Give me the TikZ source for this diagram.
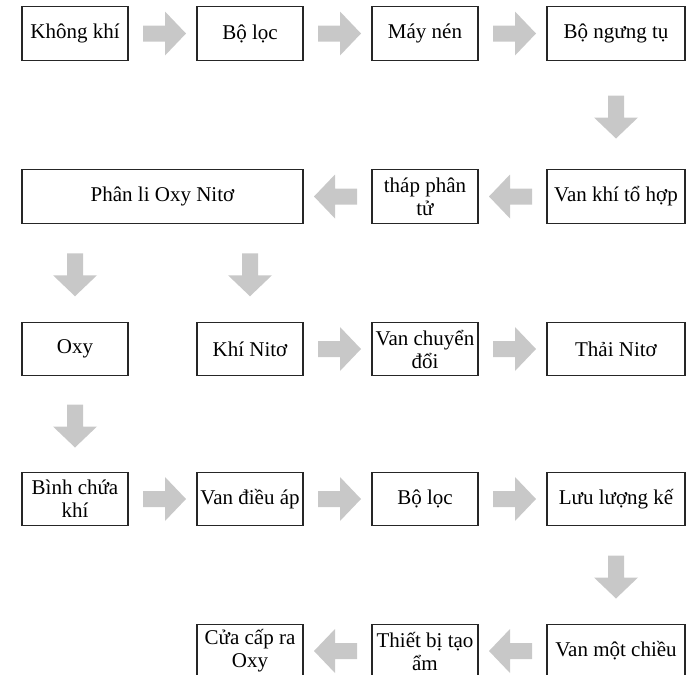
\documentclass[tikz,border=0pt]{standalone}
\usepackage{fontspec}
\setmainfont{Liberation Serif}
\usetikzlibrary{calc}
\definecolor{arrowgray}{RGB}{200,200,200}
\tikzstyle{block} = [draw=black!85, line width=1.1pt, fill=white, minimum width=106pt, minimum height=53.5pt, inner sep=1pt, align=center, font=\fontsize{21}{23}\selectfont]
\tikzstyle{wideblock} = [block, minimum width=138pt]
\tikzset{
  pics/bigarrow/.style={code={
    \fill[arrowgray] (-21.5,-8) -- (0.5,-8) -- (0.5,-22) -- (21.5,0) -- (0.5,22) -- (0.5,8) -- (-21.5,8) -- cycle;
  }}
}

\begin{document}
\begin{tikzpicture}[x=1pt, y=-1pt]
      \clip (0,0) rectangle (686,675);
      % row 1
      \node[block] (air) at (75, 33.5) {Không khí};
      \node[block] (filter1) at (250, 33.5) {Bộ lọc};
      \node[block] (compressor) at (425, 33.5) {Máy nén};
      \node[wideblock] (condenser) at (616, 33.5) {Bộ ngưng tụ};
      % row 2
      \node[block, minimum width=281pt] (separator) at (162.5, 196.5) {Phân li Oxy Nitơ};
      \node[block] (tower) at (425, 196.5) {tháp phân\\tử};
      \node[wideblock] (mixvalve) at (616, 196.5) {Van khí tổ hợp};
      % row 3
      \node[block] (oxygen) at (75, 349) {Oxy};
      \node[block] (nitrogen) at (250, 349) {Khí Nitơ};
      \node[block] (switchvalve) at (425, 349) {Van chuyển\\đổi};
      \node[wideblock] (exhaust) at (616, 349) {Thải Nitơ};
      % row 4
      \node[block] (tank) at (75, 499) {Bình chứa\\khí};
      \node[block] (regulator) at (250, 499) {Van điều áp};
      \node[block] (filter2) at (425, 499) {Bộ lọc};
      \node[wideblock] (flowmeter) at (616, 499) {Lưu lượng kế};
      % row 5
      \node[block] (outlet) at (250, 651) {Cửa cấp ra\\Oxy};
      \node[block] (humidifier) at (425, 651) {Thiết bị tạo\\ẩm};
      \node[wideblock] (checkvalve) at (616, 651) {Van một chiều};

      \pic at ($(air.east)!0.5!(filter1.west)+(2,0)$) {bigarrow};
      \pic at ($(filter1.east)!0.5!(compressor.west)+(2,0)$) {bigarrow};
      \pic at ($(compressor.east)!0.5!(condenser.west)+(2,0)$) {bigarrow};
      \pic[rotate=-90] at ($(condenser.south)!0.5!(mixvalve.north)+(0,2)$) {bigarrow};
      \pic[rotate=180] at ($(mixvalve.west)!0.5!(tower.east)+(-2,0)$) {bigarrow};
      \pic[rotate=180] at ($(tower.west)!0.5!(separator.east)+(-2,0)$) {bigarrow};
      \pic[rotate=-90] at ($(separator.south -| oxygen.north)!0.5!(oxygen.north)+(0,2)$) {bigarrow};
      \pic[rotate=-90] at ($(separator.south -| nitrogen.north)!0.5!(nitrogen.north)+(0,2)$) {bigarrow};
      \pic at ($(nitrogen.east)!0.5!(switchvalve.west)+(2,0)$) {bigarrow};
      \pic at ($(switchvalve.east)!0.5!(exhaust.west)+(2,0)$) {bigarrow};
      \pic[rotate=-90] at ($(oxygen.south)!0.5!(tank.north)+(0,2)$) {bigarrow};
      \pic at ($(tank.east)!0.5!(regulator.west)+(2,0)$) {bigarrow};
      \pic at ($(regulator.east)!0.5!(filter2.west)+(2,0)$) {bigarrow};
      \pic at ($(filter2.east)!0.5!(flowmeter.west)+(2,0)$) {bigarrow};
      \pic[rotate=-90] at ($(flowmeter.south)!0.5!(checkvalve.north)+(0,2)$) {bigarrow};
      \pic[rotate=180] at ($(checkvalve.west)!0.5!(humidifier.east)+(-2,0)$) {bigarrow};
      \pic[rotate=180] at ($(humidifier.west)!0.5!(outlet.east)+(-2,0)$) {bigarrow};
\end{tikzpicture}
\end{document}
